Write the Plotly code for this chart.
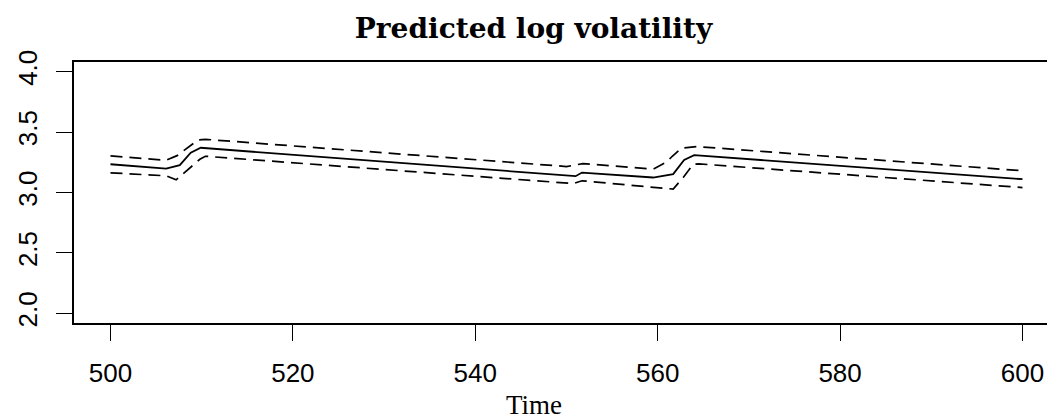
import plotly.graph_objects as go

# Predicted log volatility: posterior mean with upper and lower bands
time_mean = [500, 506.1, 507.6, 508.8, 509.9, 551.0, 551.7, 559.5, 561.7, 562.9, 564.0, 600]
mean_vol = [3.234, 3.198, 3.226, 3.33, 3.37, 3.135, 3.165, 3.124, 3.152, 3.27, 3.309, 3.11]

time_upper = [500, 506.1, 507.3, 508.4, 509.6, 510.4, 550.0, 551.8, 559.5, 561.0, 561.6, 562.6, 564.3, 600]
upper_vol = [3.303, 3.267, 3.305, 3.37, 3.435, 3.44, 3.215, 3.239, 3.193, 3.253, 3.30, 3.366, 3.38, 3.18]

time_lower = [500, 506.1, 507.2, 508.7, 509.8, 510.4, 550.75, 551.7, 561.7, 562.8, 563.9, 564.5, 600]
lower_vol = [3.163, 3.138, 3.105, 3.206, 3.275, 3.30, 3.074, 3.097, 3.028, 3.124, 3.234, 3.237, 3.041]

x_ticks = [500, 520, 540, 560, 580, 600]
y_ticks = [2.0, 2.5, 3.0, 3.5, 4.0]

W, H = 1047, 419
L, R, T, B = 74, 0, 62, 96

fig = go.Figure()
dash = "12px,7px"
fig.add_trace(go.Scatter(x=time_upper, y=upper_vol, mode="lines",
                         line=dict(color="black", width=1.7, dash=dash)))
fig.add_trace(go.Scatter(x=time_lower, y=lower_vol, mode="lines",
                         line=dict(color="black", width=1.7, dash=dash)))
fig.add_trace(go.Scatter(x=time_mean, y=mean_vol, mode="lines",
                         line=dict(color="black", width=1.8)))

pw = W - L - R
ph = H - T - B
title_cx = 533.5

fig.update_layout(
    width=W, height=H,
    margin=dict(l=L, r=R, t=T, b=B),
    paper_bgcolor="white", plot_bgcolor="white",
    showlegend=False,
    title=dict(text="<b>Predicted log volatility</b>",
               font=dict(family="DejaVu Serif", size=28, color="black"),
               xref="container", x=title_cx / W, xanchor="center",
               yref="container", y=1 - 28 / H, yanchor="middle"),
    xaxis=dict(range=[496, 496 + pw / 9.12], tickvals=x_ticks,
               ticktext=[str(v) for v in x_ticks],
               showgrid=False, zeroline=False,
               showline=True, mirror=True, linecolor="black", linewidth=1.5,
               ticks="outside", ticklen=16, tickwidth=1.2, tickcolor="black",
               ticklabelstandoff=10,
               tickfont=dict(family="Liberation Sans", size=26, color="black")),
    yaxis=dict(range=[1.92, 4.08], tickvals=y_ticks,
               ticktext=[f"{v:.1f}" for v in y_ticks],
               showgrid=False, zeroline=False,
               showline=True, mirror=False, linecolor="black", linewidth=1.5,
               ticks="outside", ticklen=16, tickwidth=1.2, tickcolor="black",
               tickangle=-90, ticklabelstandoff=9,
               tickfont=dict(family="Liberation Sans", size=26, color="black")),
    annotations=[dict(text="Time", xref="paper", yref="paper",
                      x=(title_cx - L) / pw, y=-(405 - (H - B)) / ph,
                      xanchor="center", yanchor="middle", showarrow=False,
                      font=dict(family="Liberation Serif", size=27, color="black"))],
)

fig.write_html("out.html")
